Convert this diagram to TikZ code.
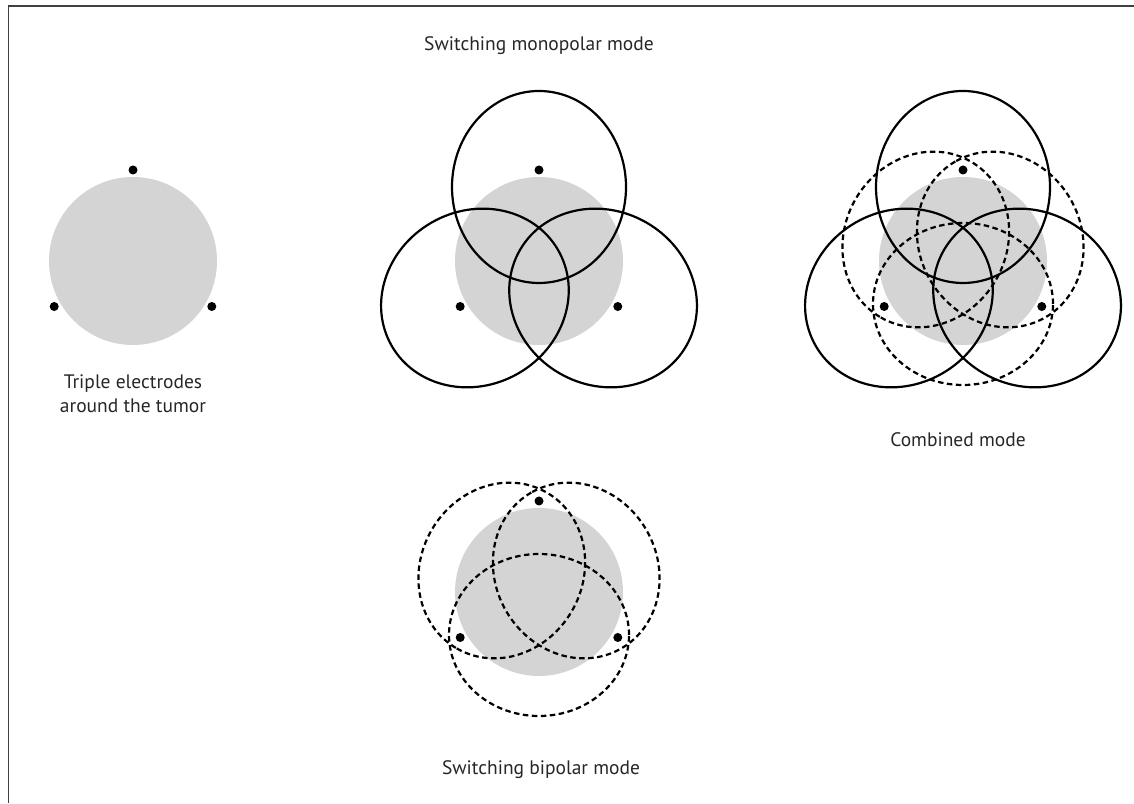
\documentclass[tikz,border=0pt]{standalone}
\usepackage{fontspec}
\setmainfont{PT Sans}
\usepackage{xcolor}
\usetikzlibrary{positioning,calc}
\definecolor{tumorgray}{gray}{0.83}
\definecolor{framegray}{gray}{0.25}

\begin{document}
\begin{tikzpicture}[
  x=1pt, y=1pt,
  font=\fontsize{19.5}{24}\selectfont,
  tumor/.style={fill=tumorgray},
  elec/.style={circle, fill=black, inner sep=0pt, minimum size=9pt},
  mono/.style={line width=2.2pt},
  bip/.style={line width=2.2pt, dash pattern=on 5.5pt off 3.5pt},
  lbl/.style={align=center, inner sep=0pt, text=black!85}]
\useasboundingbox (0,0) rectangle (1134,803);
\draw[framegray, line width=1.6pt] (8.5,0) |- (1134,797);
% tumours
\foreach \n/\cx/\cy in {A/133/542,B/539/542,C/963/542,D/539/211}
  \fill[tumor] (\cx,\cy) coordinate (tum\n) circle (84);
% monopolar fields
\foreach \cx/\cy in {539/542,963/542}
  \foreach \r in {0,120,240}
    \draw[mono, shift={(\cx,\cy)}, rotate=\r] (0,74) ellipse [x radius=87, y radius=96];
% bipolar fields
\foreach \cx/\cy in {963/542,539/211}
  \foreach \r in {0,120,240}
    \draw[bip, shift={(\cx,\cy)}, rotate=\r] (0,-43) ellipse [x radius=90, y radius=81];
% electrodes
\foreach \n in {A,B,C,D}
  \foreach \a/\k in {90/t,210/l,330/r}
    \node[elec] (el\n\k) at ($(tum\n)+(\a:91)$) {};
\node[lbl] (labA) at (133,409) {Triple electrodes\\around the tumor};
\node[lbl] (labB) at (539,757) {Switching monopolar mode};
\node[lbl] (labC) at (958,363) {Combined mode};
\node[lbl] (labD) at (541,33) {Switching bipolar mode};
\end{tikzpicture}
\end{document}
